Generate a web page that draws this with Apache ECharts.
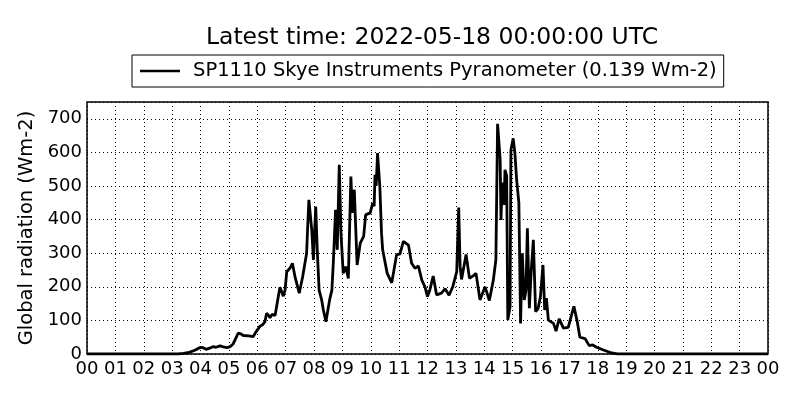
<!DOCTYPE html>
<html>
<head>
<meta charset="utf-8">
<script src="https://cdn.jsdelivr.net/npm/echarts@6/dist/echarts.min.js"></script>
<style>html,body{margin:0;padding:0;background:#fff;}#c{width:800px;height:400px;}</style>
</head>
<body>
<div id="c"></div>
<script>
// Time of day (hours UTC) and global radiation (Wm-2)
const hours = [0,3.2,3.4,3.6,3.8,3.95,4.05,4.2,4.35,4.45,4.55,4.69,4.8,4.93,5.05,5.15,5.33,5.42,5.51,5.7,5.86,5.95,6.1,6.2,6.27,6.33,6.4,6.45,6.52,6.57,6.63,6.7,6.8,6.92,6.98,7.04,7.15,7.24,7.33,7.48,7.6,7.74,7.77,7.82,7.92,7.98,8.06,8.12,8.18,8.27,8.33,8.42,8.55,8.63,8.68,8.76,8.82,8.89,8.95,9.03,9.12,9.21,9.3,9.35,9.42,9.52,9.63,9.75,9.82,9.98,10.07,10.12,10.15,10.19,10.24,10.32,10.38,10.42,10.58,10.74,10.91,11.03,11.15,11.33,11.44,11.56,11.68,11.8,11.91,12.0,12.08,12.2,12.32,12.49,12.62,12.76,12.89,13.03,13.1,13.15,13.2,13.36,13.48,13.62,13.71,13.85,14.03,14.18,14.32,14.41,14.47,14.56,14.59,14.63,14.7,14.73,14.79,14.83,14.91,14.94,15.02,15.08,15.14,15.22,15.28,15.34,15.41,15.47,15.52,15.59,15.65,15.73,15.81,15.9,15.98,16.07,16.13,16.19,16.26,16.44,16.53,16.64,16.79,16.96,17.16,17.28,17.37,17.55,17.7,17.82,17.96,18.2,18.49,18.7,24];
const radiation = [0,0,2,5,11,18,20,14,18,22,20,24,21,19,22,30,62,60,55,54,52,65,83,88,96,121,115,108,118,123,115,150,199,172,190,245,255,270,230,181,230,300,364,459,370,280,439,300,190,161,131,96,161,190,270,429,310,563,360,240,260,225,528,420,489,265,330,350,414,420,449,440,533,500,598,498,359,310,240,212,295,298,335,324,270,255,262,220,200,171,190,232,176,181,194,175,200,245,436,260,222,296,225,233,240,161,200,159,220,280,685,580,399,510,444,548,530,101,141,608,642,598,520,450,91,300,161,190,374,136,240,340,126,136,171,265,131,166,101,91,68,105,77,79,142,95,50,46,25,27,20,12,3,0,0];
const hourTicks = ['00','01','02','03','04','05','06','07','08','09','10','11','12','13','14','15','16','17','18','19','20','21','22','23','00'];
const titleText = 'Latest time: 2022-05-18 00:00:00 UTC';
const seriesName = 'SP1110 Skye Instruments Pyranometer (0.139 Wm-2)';

const points = hours.map((h, i) => [h, radiation[i]]);
const FONT = 'DejaVu Sans';
const chart = echarts.init(document.getElementById('c'), null, {renderer: 'canvas'});
chart.setOption({
  animation: false,
  backgroundColor: '#fff',
  textStyle: {fontFamily: FONT, color: '#000'},
  title: {
    text: titleText,
    left: 427, top: 21, textAlign: 'center',
    textStyle: {fontFamily: FONT, fontSize: 23.5, fontWeight: 'normal', color: '#000'}
  },
  legend: {
    left: 132, top: 55,
    padding: [6, 7, 6, 8],
    borderColor: '#000', borderWidth: 1, borderRadius: 0,
    itemWidth: 40, itemHeight: 14,
    textStyle: {fontFamily: FONT, fontSize: 19.5, color: '#000', padding: [0, 0, 0, 8]},
    data: [{name: seriesName, icon: 'path://M0,6 L40,6 L40,8.5 L0,8.5 Z'}]
  },
  grid: {left: 87, right: 32, top: 102, bottom: 46, show: true, borderColor: '#000', borderWidth: 1.5, backgroundColor: 'transparent'},
  xAxis: {
    type: 'value', min: 0, max: 24, interval: 1,
    axisLine: {show: false},
    axisTick: {show: false},
    axisLabel: {
      fontFamily: FONT, fontSize: 18, color: '#000', margin: 6,
      formatter: v => hourTicks[Math.round(v)]
    },
    splitLine: {show: true, lineStyle: {color: '#000', width: 1, type: [1, 3]}}
  },
  yAxis: {
    type: 'value', min: 0, max: 750, interval: 100,
    name: 'Global radiation (Wm-2)',
    nameLocation: 'middle', nameGap: 45, nameRotate: 90,
    nameTextStyle: {fontFamily: FONT, fontSize: 19.5, color: '#000'},
    axisLine: {show: false},
    axisTick: {show: false},
    axisLabel: {
      fontFamily: FONT, fontSize: 18, color: '#000', margin: 5,
      formatter: v => (v > 700 ? '' : String(v))
    },
    splitLine: {show: true, lineStyle: {color: '#000', width: 1, type: [1, 3]}}
  },
  series: [{
    name: seriesName,
    type: 'line',
    data: points,
    symbol: 'none',
    smooth: false,
    lineStyle: {color: '#000', width: 2.8},
    itemStyle: {color: '#000'}
  }]
});
</script>
</body>
</html>
